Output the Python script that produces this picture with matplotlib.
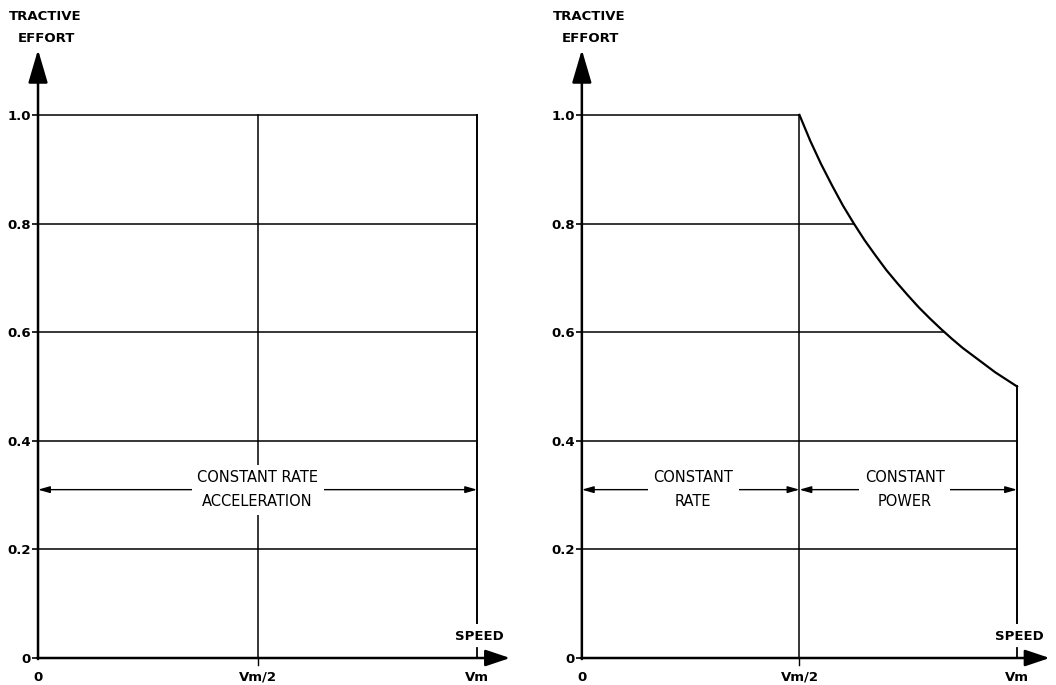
import numpy as np
import matplotlib
matplotlib.use("Agg")
import matplotlib.pyplot as plt

# niveles de la cuadricula (esfuerzo de traccion, fraccion del maximo)
niveles = [0.2, 0.4, 0.6, 0.8, 1.0]
etiquetas_y = ["0", "0.2", "0.4", "0.6", "0.8", "1.0"]
valores_y = [0, 0.2, 0.4, 0.6, 0.8, 1.0]
valores_x = [0, 0.5, 1.0]
etiquetas_x = ["0", "Vm/2", "Vm"]

# curva de potencia constante (velocidad / Vm, esfuerzo)
vel_potencia = [0.500, 0.525, 0.550, 0.575, 0.600, 0.625, 0.650, 0.675, 0.700, 0.725, 0.750,
                0.775, 0.800, 0.825, 0.850, 0.875, 0.900, 0.925, 0.950, 0.975, 1.000]
esf_potencia = [1.000, 0.952, 0.909, 0.870, 0.833, 0.800, 0.769, 0.741, 0.714, 0.690, 0.667,
                0.645, 0.625, 0.606, 0.588, 0.571, 0.556, 0.541, 0.526, 0.513, 0.500]

plt.rcParams['font.family'] = ['DejaVu Sans']
negro = 'black'


def ejes_base(ax):
    ax.set_xlim(0, 1.075)
    ax.set_ylim(0, 1.12)
    for s in ax.spines.values():
        s.set_visible(False)
    ax.set_yticks(valores_y)
    ax.set_yticklabels(etiquetas_y, fontsize=9.5, fontweight='bold')
    ax.set_xticks(valores_x)
    ax.set_xticklabels(etiquetas_x, fontsize=9.5, fontweight='bold')
    ax.tick_params(axis='y', length=4, width=1.2, pad=1)
    ax.tick_params(axis='x', length=0, pad=9)
    # flechas de los ejes
    ax.annotate('', xy=(0, 1.12), xytext=(0, -0.002), annotation_clip=False,
                arrowprops=dict(arrowstyle='-|>,head_length=1.7,head_width=0.5',
                                lw=1.8, color=negro, mutation_scale=12, shrinkA=0, shrinkB=0))
    ax.annotate('', xy=(1.075, 0), xytext=(-0.002, 0), annotation_clip=False,
                arrowprops=dict(arrowstyle='-|>,head_length=1.25,head_width=0.42',
                                lw=1.8, color=negro, mutation_scale=12, shrinkA=0, shrinkB=0))
    ax.text(0.016, 1.182, "TRACTIVE", fontsize=9.5, fontweight='bold', ha='center', va='center')
    ax.text(0.02, 1.14, "EFFORT", fontsize=9.5, fontweight='bold', ha='center', va='center')
    ax.text(1.005, 0.04, "SPEED", fontsize=9.5, fontweight='bold', ha='center', va='center')
    # marcas cortas sobre el eje
    ax.plot([1.0, 1.0], [0, 0.018], color=negro, lw=1.3)
    ax.plot([0.5, 0.5], [-0.012, 0], color=negro, lw=1.0, clip_on=False)


def flecha_cota(ax, x0, x1, y, texto, xt):
    ax.annotate('', xy=(x1, y), xytext=(x0, y),
                arrowprops=dict(arrowstyle='<|-|>,head_length=0.7,head_width=0.2',
                                lw=1.0, color=negro, shrinkA=0, shrinkB=0))
    ax.text(xt, y, texto, fontsize=10.5, ha='center', va='center', linespacing=1.75,
            bbox=dict(facecolor='white', edgecolor='none', pad=4))


fig = plt.figure(figsize=(10.56, 6.85), dpi=100)
ax1 = fig.add_axes([0.036, 0.0394, 0.447, 0.888])
ax2 = fig.add_axes([0.551, 0.0394, 0.443, 0.888])

# panel izquierdo: aceleracion a ritmo constante
ejes_base(ax1)
for n in niveles:
    ax1.plot([0, 1.0], [n, n], color=negro, lw=1.1)
ax1.plot([0.5, 0.5], [0, 1.0], color=negro, lw=1.1)
ax1.plot([1.0, 1.0], [0.065, 1.0], color=negro, lw=1.4)
flecha_cota(ax1, 0, 1.0, 0.31, "CONSTANT RATE\nACCELERATION", 0.50)

# panel derecho: ritmo constante + potencia constante
ejes_base(ax2)
for n in niveles:
    if n >= 1.0:
        fin = vel_potencia[0]
    elif n > esf_potencia[-1]:
        fin = np.interp(n, esf_potencia[::-1], vel_potencia[::-1])
    else:
        fin = 1.0
    ax2.plot([0, fin], [n, n], color=negro, lw=1.1)
ax2.plot(vel_potencia, esf_potencia, color=negro, lw=1.6)
ax2.plot([0.5, 0.5], [0, 1.0], color=negro, lw=1.1)
ax2.plot([1.0, 1.0], [0.065, esf_potencia[-1]], color=negro, lw=1.4)
flecha_cota(ax2, 0, 0.5, 0.31, "CONSTANT\nRATE", 0.256)
flecha_cota(ax2, 0.5, 1.0, 0.31, "CONSTANT\nPOWER", 0.742)

fig.savefig('out.png', dpi=100)
